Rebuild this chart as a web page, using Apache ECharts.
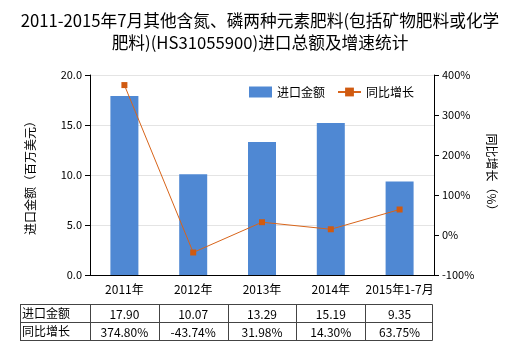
<!DOCTYPE html>
<html><head><meta charset="utf-8">
<script src="https://cdn.jsdelivr.net/npm/echarts@6/dist/echarts.min.js"></script>
<style>html,body{margin:0;padding:0;background:#fff}#c{width:520px;height:350px}</style>
</head><body><div id="c"></div>
<script>
const categories = ['2011年','2012年','2013年','2014年','2015年1-7月'];
const importValues = [17.90, 10.07, 13.29, 15.19, 9.35];
const growthValues = [374.80, -43.74, 31.98, 14.30, 63.75];
const importLabels = ['17.90','10.07','13.29','15.19','9.35'];
const growthLabels = ['374.80%','-43.74%','31.98%','14.30%','63.75%'];
const rowNames = ['进口金额','同比增长'];

const FONT = '"Noto Sans CJK SC", "Noto Sans", sans-serif';
const chart = echarts.init(document.getElementById('c'));

// table layout
const tLeft = 20, gLeft = 90, gRight = 434, rowTop = 304, rowH = 18;
const colW = (gRight - gLeft) / categories.length;
const graphics = [];
const lineStyle = {stroke:'#444', lineWidth:1};
for (let r = 0; r <= 2; r++) {
  const y = rowTop + r*rowH + 0.5;
  graphics.push({type:'line', shape:{x1:tLeft, y1:y, x2:gRight-1.5, y2:y}, style:lineStyle, silent:true});
}
const xs = [tLeft+0.5];
for (let i = 0; i <= categories.length; i++) xs.push(Math.round(gLeft + i*colW) + 0.5);
xs[xs.length-1] = gRight - 1.5;
xs.forEach(x => graphics.push({type:'line', shape:{x1:x, y1:rowTop+0.5, x2:x, y2:rowTop+2*rowH+0.5}, style:lineStyle, silent:true}));
const rows = [importLabels, growthLabels];
rowNames.forEach((n, r) => {
  graphics.push({type:'text', x: tLeft+2, y: rowTop + r*rowH + rowH/2 , style:{text:n, font:'12px '+FONT, fill:'#000', textVerticalAlign:'middle'}});
  rows[r].forEach((t, i) => {
    graphics.push({type:'text', x: gLeft + (i+0.5)*colW, y: rowTop + r*rowH + rowH/2 + 1,
      style:{text:t, font:'12px '+FONT, fill:'#000', textAlign:'center', textVerticalAlign:'middle'}});
  });
});

chart.setOption({
  backgroundColor:'#fff',
  animation:false,
  title:{
    text:'2011-2015年7月其他含氮、磷两种元素肥料(包括矿物肥料或化学\n肥料)(HS31055900)进口总额及增速统计',
    left:'center', top:5,
    textStyle:{fontFamily:FONT, fontSize:16.7, fontWeight:'normal', color:'#000', lineHeight:22}
  },
  legend:{
    top:86, left:249, padding:0, itemGap:12, itemWidth:23, itemHeight:11,
    textStyle:{fontFamily:FONT, fontSize:12, color:'#000'},
    data:[{name:'进口金额', icon:'rect'}, {name:'同比增长'}]
  },
  grid:{left:gLeft, right:520-gRight, top:75, bottom:75, containLabel:false},
  xAxis:{
    type:'category', data:categories,
    axisLine:{lineStyle:{color:'#000'}},
    axisTick:{alignWithLabel:true, length:4, lineStyle:{color:'#000'}},
    axisLabel:{fontFamily:FONT, fontSize:12, color:'#000', margin:8, interval:0}
  },
  yAxis:[{
    type:'value', min:0, max:20, interval:5,
    name:'进口金额（百万美元）', nameLocation:'middle', nameGap:54,
    nameTextStyle:{fontFamily:FONT, fontSize:12, color:'#000'},
    axisLine:{show:true, lineStyle:{color:'#000'}},
    axisTick:{show:true, length:5, lineStyle:{color:'#000'}},
    axisLabel:{fontFamily:FONT, fontSize:11, color:'#000', formatter:v=>v.toFixed(1)},
    splitLine:{lineStyle:{color:'#e4e4e4'}}
  },{
    type:'value', min:-100, max:400, interval:100, position:'right',
    name:'同比增长（%）', nameLocation:'middle', nameGap:50, nameRotate:-90,
    nameTextStyle:{fontFamily:FONT, fontSize:12, color:'#000'},
    axisLine:{show:true, lineStyle:{color:'#000'}},
    axisTick:{show:true, length:5, lineStyle:{color:'#000'}},
    axisLabel:{fontFamily:FONT, fontSize:11, color:'#000', formatter:'{value}%'},
    splitLine:{show:false}
  }],
  series:[{
    name:'进口金额', type:'bar', data:importValues, barWidth:28,
    itemStyle:{color:'#4f88d3'}
  },{
    name:'同比增长', type:'line', yAxisIndex:1, data:growthValues,
    symbol:'rect', symbolSize:6,
    lineStyle:{color:'#d8641a', width:1},
    itemStyle:{color:'#d05a10'}
  }],
  graphic: graphics
});
</script></body></html>
